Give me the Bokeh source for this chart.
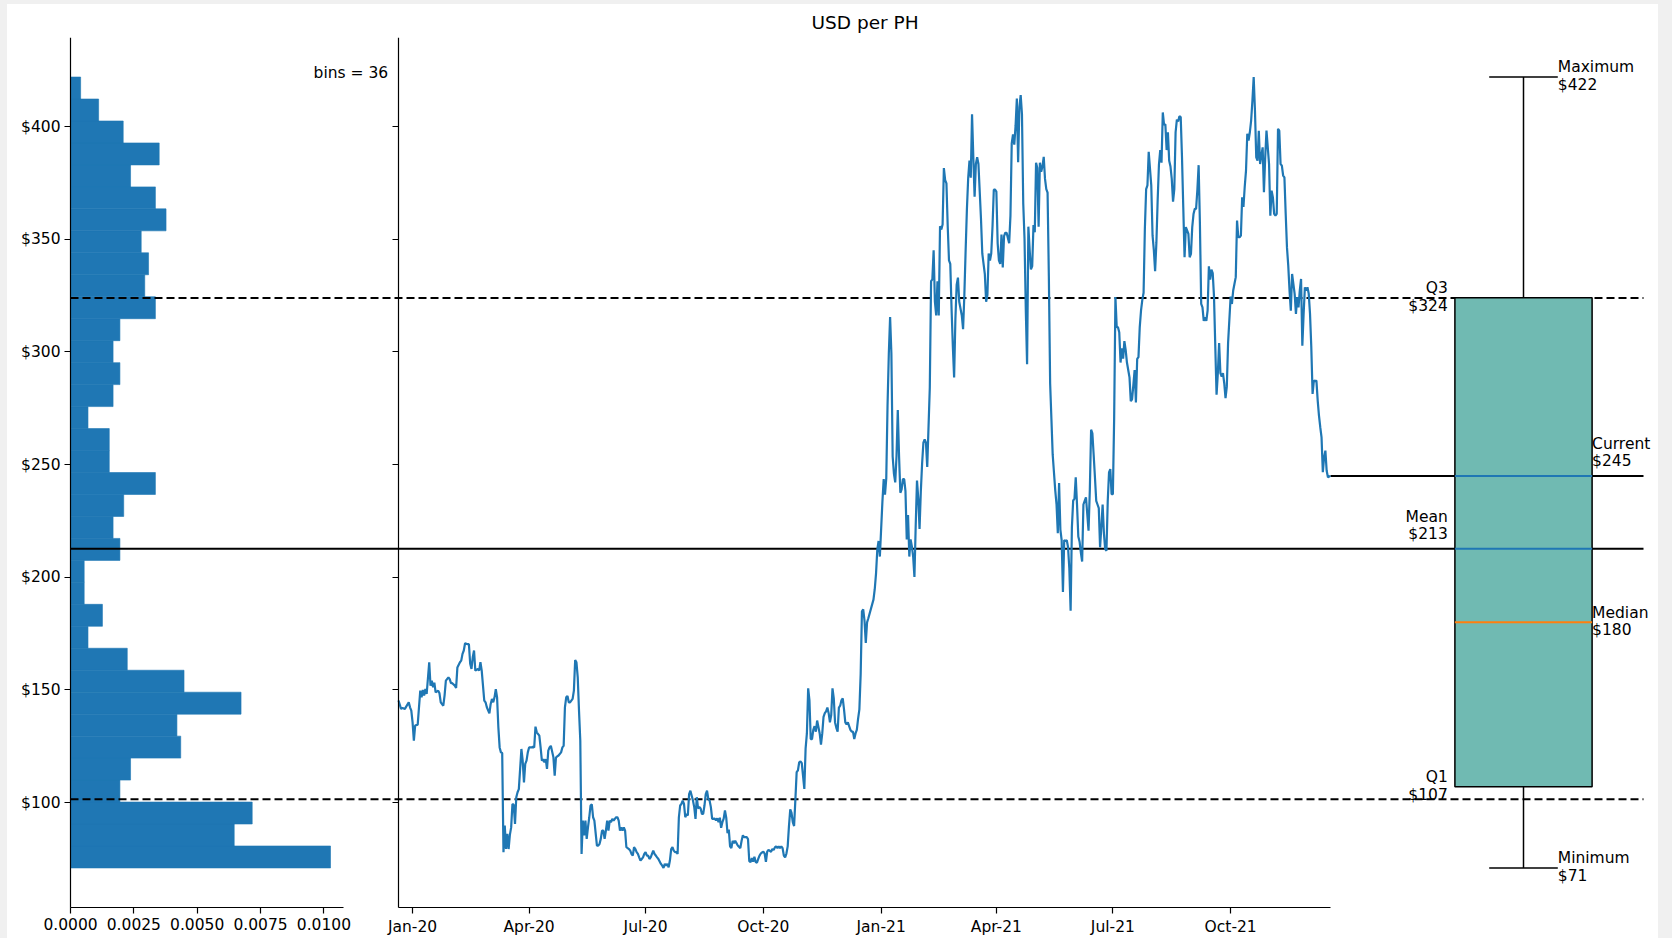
import numpy as np
import pandas as pd
from bokeh.plotting import figure
from bokeh.models import (Range1d, LinearAxis, DatetimeAxis, FixedTicker, PrintfTickFormatter,
                          DatetimeTickFormatter, CustomJSTickFormatter, Label, Title, Spacer)
from bokeh.layouts import row, column
from bokeh.embed import file_html
from bokeh.resources import INLINE

# ---------------- data (days counted from 2020-01-01, USD per PH) ----------------
days_2020h1 = [-11, -9, -8, -6, -5, -3, -2, -1, 0, 1, 2, 4, 5, 6, 7, 8, 9, 10, 11, 13, 14, 15, 16, 17, 18,
               20, 21, 22, 24, 25, 26, 28, 29, 30, 31, 33, 34, 35, 37, 38, 39, 40, 41, 43, 44, 45, 46, 47,
               48, 49, 51, 52, 53, 54, 56, 57, 58, 60, 61, 62, 63, 64, 65, 66, 67, 68, 69, 70, 71, 72, 73,
               74, 75, 76, 77, 78, 79, 80, 81, 82, 83, 85, 86, 87, 88, 89, 90, 91, 93, 94, 95, 96, 97, 99,
               100, 101, 102, 103, 104, 105, 106, 107, 108, 110, 111, 112, 113, 114, 116, 117, 118, 119,
               120, 121, 122, 123, 125, 126, 127, 128, 129, 130, 131, 132, 133, 134, 135, 136, 137, 138,
               139, 140, 141, 142, 144, 145, 146, 147, 148, 149, 150, 151, 152, 153, 154, 155, 156, 157,
               158, 159, 160, 161, 162, 163, 164, 165, 166, 167, 169, 170, 171, 172, 173, 174, 175, 176,
               177, 178, 179, 180, 181]
usd_2020h1 = [145.3, 141.6, 142, 141.6, 142.6, 144.5, 142.3, 140.8, 135.6, 127.5, 134.2, 134.6, 142.3,
              149.7, 146.7, 150, 147.5, 150.4, 148.2, 162.3, 151.9, 154.1, 151.2, 153.2, 148.9, 149.7,
              148.5, 144.5, 143, 147.6, 154.1, 155.6, 154.8, 153, 153, 151.9, 150.9, 160, 162.3, 163, 166,
              167.5, 170.7, 170.3, 170.3, 161.6, 159.3, 164.5, 167.5, 158.6, 159.3, 158.6, 162.3, 158.6,
              145.3, 144.5, 142.3, 139.6, 143.8, 146, 144.5, 146.7, 150.4, 146.7, 133.4, 124.5, 122.3, 122,
              78, 89.8, 79.4, 86.1, 79.4, 85.7, 89, 99.4, 99, 90.5, 102.4, 104.6, 106, 123.8, 118.6, 109,
              117.2, 118.6, 122.3, 124.5, 124.5, 124.8, 124.5, 133.7, 131.2, 129.7, 124.5, 118.6, 119.3,
              117.9, 119.3, 115, 123.1, 124.5, 125.2, 120.1, 112, 120, 120.5, 120.9, 122.3, 124.5, 125.2,
              142.3, 146.7, 147.3, 144.5, 144.5, 146, 149.7, 163.3, 162.3, 155.6, 140.8, 127.5, 77.2, 92,
              85.4, 92, 83.9, 89, 93.5, 98.7, 99.2, 93.5, 92, 80.9, 80.9, 81.6, 83.9, 87.6, 87.6, 83.9,
              87.6, 92, 87.6, 92, 91.3, 92.8, 92, 92.8, 93.5, 93.5, 92, 87.6, 89, 87.6, 89, 87.6, 80.2,
              79.4, 78.7, 77.2, 76.5, 80.2, 79.4, 78, 77.2, 75.7, 74.3, 75, 75.7, 77.2]

days_2020h2 = [182, 183, 184, 185, 186, 187, 188, 189, 190, 191, 192, 194, 195, 196, 197, 198, 199, 200,
               201, 202, 203, 204, 205, 206, 207, 208, 209, 210, 211, 212, 213, 214, 215, 216, 217, 219,
               220, 221, 222, 223, 224, 225, 226, 227, 228, 229, 230, 231, 232, 233, 234, 236, 237, 238,
               239, 240, 241, 242, 243, 244, 245, 246, 247, 248, 249, 250, 251, 252, 253, 254, 256, 257,
               258, 259, 260, 261, 262, 263, 264, 265, 266, 267, 268, 269, 270, 271, 272, 273, 274, 275,
               276, 277, 278, 280, 281, 282, 283, 284, 285, 286, 287, 288, 289, 290, 291, 292, 293, 294,
               295, 296, 297, 298, 299, 300, 301, 302, 303, 304, 306, 307, 308, 309, 310, 311, 312, 313,
               314, 315, 316, 318, 319, 320, 321, 322, 323, 324, 325, 326, 327, 328, 329, 330, 331, 332,
               333, 334, 335, 336, 337, 338, 339, 340, 342, 343, 344, 345, 346, 347, 348, 349, 350, 351,
               352, 353, 354, 355, 356, 360, 361, 362, 363, 364, 365]
usd_2020h2 = [78, 76.5, 76.5, 75, 75.7, 77.2, 78.7, 77.2, 76.5, 75.7, 75, 72.8, 72, 71, 72.8, 72, 72.8,
              71.3, 74.3, 79.4, 80.2, 78.7, 78, 78, 77.2, 93.5, 98.7, 99.4, 100.9, 99.4, 93.5, 95, 94.3,
              103.8, 105.3, 100.9, 98, 92.8, 102.4, 97.4, 98, 97.4, 95, 95, 98.7, 103.8, 105.3, 101.6,
              100.9, 98, 92.8, 92.9, 92.1, 93, 91.3, 93.3, 88.8, 91.3, 92.9, 96.5, 93.3, 86.4, 88, 80.6,
              79.8, 83, 82, 83.1, 82, 81, 79.8, 83.1, 85.5, 84.7, 84.7, 84.7, 83.8, 74, 73.6, 75.4, 73.8,
              76, 73.6, 73.3, 75, 76.5, 77.4, 77.9, 78.2, 77.4, 73.7, 78.2, 79, 78.2, 79.4, 79, 80.1,
              80.6, 79.8, 80.6, 79.8, 80.6, 79.8, 76.5, 75.7, 77.4, 80.6, 89.6, 97, 95.4, 91.3, 89.6,
              101.2, 113.5, 114.3, 117.9, 118.3, 117.5, 106.1, 124.1, 130.7, 150.7, 145.4, 128.2, 128.2,
              132.3, 133.9, 131.5, 136.4, 130.7, 125.7, 130.7, 138.1, 139.7, 140.5, 142.2, 139.7, 135.6,
              138.9, 150.7, 146.3, 135.6, 133.2, 131.5, 142.2, 143, 145.4, 146.3, 141.4, 135.6, 134.7,
              135.6, 132.3, 131.5, 131.5, 128.2, 130.7, 132.3, 137.3, 141.4, 156.9, 184.9, 185.7, 180.8,
              170.9, 180, 181.8, 190.1, 194.7, 201.6, 212.3, 216.1, 209.2]

days_2021h1 = [367, 368, 369, 370, 371, 372, 373, 374, 375, 376, 377, 378, 379, 380, 381, 382, 383, 384,
               385, 386, 387, 388, 389, 390, 391, 392, 393, 394, 395, 396, 397, 398, 399, 400, 401, 402,
               404, 405, 406, 407, 408, 409, 410, 411, 412, 413, 414, 415, 416, 417, 418, 419, 420, 421,
               422, 423, 424, 425, 426, 427, 429, 430, 431, 432, 433, 434, 435, 436, 437, 438, 439, 440,
               441, 442, 443, 444, 445, 446, 447, 448, 449, 450, 451, 452, 453, 454, 455, 456, 457, 458,
               459, 460, 461, 462, 463, 464, 466, 467, 468, 469, 470, 471, 472, 473, 474, 475, 476, 477,
               478, 479, 480, 481, 482, 483, 484, 485, 486, 487, 488, 489, 490, 491, 492, 493, 494, 495,
               496, 497, 498, 499, 500, 501, 502, 503, 504, 505, 506, 507, 508, 509, 510, 511, 512, 513,
               514, 515, 516, 517, 518, 519, 520, 521, 522, 523, 524, 525, 526, 528, 529, 530, 531, 532,
               533, 534, 535, 536, 537, 538, 539, 540, 541, 542, 543, 544, 545, 546]
usd_2021h1 = [233.7, 243.6, 236.7, 243.9, 276.4, 299.4, 315.5, 299.4, 253.6, 245.9, 242.1, 253.6, 274.2,
              253.6, 237.5, 239, 243.6, 243.6, 238.2, 216.8, 227.6, 209.2, 216.8, 213.7, 209.2, 200.1,
              223, 242.9, 235.2, 221.4, 238.2, 250.5, 259.7, 261.2, 259.7, 249,
              284.1, 331.4, 332.2, 345.1, 322.3, 316.2, 331.4, 316.2, 355.8, 354.3, 356.6, 381.6, 376.3,
              374.8, 355.8, 340.6, 339.1, 319.3, 302.5, 288.7, 314.6, 329.9, 333, 322.3,
              316.2, 310.1, 325.3, 345.1, 363.5, 377.3, 384.9, 377.3, 405.5, 386.4, 368.9, 383.4, 386.4,
              383.4, 371.2, 358.9, 343.7, 339.1, 334.5, 322.3, 325.3, 343.7, 340.6, 343.7, 355.8, 372,
              372, 371.2, 348.3, 340.6, 339.1, 352.1, 337.5, 351.4, 352.9, 352.9,
              348.3, 360.4, 392.6, 396.5, 392, 400.3, 412.5, 384.2, 408.7, 414, 405.5, 365.9, 350.1,
              318.4, 294.6, 355.6, 345.3, 336.6, 338.1, 356.3, 353.1, 384, 381.6, 355.6, 384, 380, 382.3,
              386.6, 376.8, 372.3, 370.7, 333.6, 286.1, 270.3, 254.4, 246.5, 238.6, 232.3, 219.6, 241.8,
              221.2, 216.5, 193.5, 216.5, 216, 216.5, 213.3, 203.8, 185.2, 222.2, 234.1, 234.8, 244.4,
              232.3, 218.1, 215.8, 211, 207, 232.3, 233.9, 235.5,
              220.7, 238.6, 265.5, 263.9, 254.4, 244.4, 233.9, 232.3, 230.7, 213.3, 222.2, 232.3, 219.6,
              212.5, 211.8, 233.9, 246.5, 248, 236.9]

days_2021h2 = [547, 548, 549, 550, 551, 552, 553, 554, 555, 556, 557, 558, 559, 560, 561, 562, 563, 564,
               565, 566, 567, 568, 569, 570, 571, 572, 573, 574, 575, 577, 578, 579, 580, 581, 582, 583,
               584, 585, 586, 587, 588, 589, 590, 591, 592, 593, 594, 595, 596, 597, 598, 599, 600, 601,
               602, 603, 604, 605, 606, 607, 608, 609, 610, 611, 612, 613, 614, 615, 616, 617, 618, 619,
               620, 621, 622, 623, 624, 625, 626, 627, 628, 629, 630, 631, 632, 633, 634, 635, 636, 637,
               639, 640, 641, 642, 643, 644, 645, 646, 647, 648, 649, 650, 651, 652, 653, 654, 655, 656,
               657, 658, 659, 660, 661, 662, 664, 665, 666, 667, 668, 669, 670, 671, 672, 673, 674, 675,
               676, 677, 678, 679, 680, 681, 682, 683, 684, 685, 686, 687, 689, 690, 691, 692, 693, 694,
               695, 696, 697, 698, 699, 700, 701, 702, 703, 704, 705, 706, 707, 708, 709, 710, 711, 712,
               713, 714, 715, 717]
usd_2021h2 = [236.9, 270.3, 324.4, 311, 311, 308.6, 295.3, 301.6, 297, 304.8, 300.9, 295.3, 292, 288.7,
              278.2, 279, 285.3, 292, 277.6, 296.9, 297.7, 311, 318.4, 323.1, 326.3, 354.8, 372.3, 373.9,
              388.8,
              373.9, 351.7, 345.3, 335.8, 348.5, 367.5, 383.2, 389.6, 384, 406.3, 400.8, 401, 389.6, 397.5,
              384.8, 382.3, 376.8, 366.7, 372.3, 397.5, 403.1, 402.3, 404.6, 404.2, 386.4, 364.2, 342,
              355.4, 353.9, 352.4, 342, 343.5, 355.4, 361.2, 363.5, 363.5, 371.8, 382.9, 356.8, 321.3,
              319.8, 313.8, 315.3, 313.8, 318.3, 338, 332.1, 336.5, 335, 324.6, 302.5, 281, 290.6, 304,
              290.6, 289.1, 290.6, 286.1, 279.5, 284.6, 304,
              324.6, 321.3, 327.3, 330.3, 333.2, 358.3, 350.9, 350.9, 351.6, 368.6, 364.4, 373.3, 380.5,
              396.8, 393.8, 397.5, 402.7, 411.5, 422, 407.1, 386.4, 384.9, 398.2, 383.4,
              390.8, 370.9, 386.4, 398.2, 390.8, 383.4, 360.5, 371.6, 368.6, 361.3, 360.5, 361.3, 399,
              398.2, 383.4, 382.7, 378.3, 377.5, 361.3, 346.4, 338.3, 327.2, 318.3, 334.6,
              325.8, 316.9, 324.3, 319.8, 327.2, 332.4, 302.8, 316.9, 328.7, 327.2, 328.7, 325.8, 316.9,
              302.1, 281.4, 287.3, 287, 287.3, 278.4, 271.7, 266.6, 262.1, 246.6, 253.2, 256.2, 247.3,
              244.4, 245]

# histogram (density per bin, 36 bins between the minimum and the maximum)
hist_bins = 36
hist_density = [0.01026, 0.00646, 0.00717, 0.00195, 0.00237, 0.00435, 0.00420, 0.00673, 0.00448,
                0.00224, 0.00069, 0.00126, 0.00054, 0.00054, 0.00195, 0.00168, 0.00210, 0.00335,
                0.00153, 0.00153, 0.00069, 0.00168, 0.00195, 0.00168, 0.00195, 0.00335, 0.00293,
                0.00308, 0.00279, 0.00377, 0.00335, 0.00237, 0.00350, 0.00208, 0.00111, 0.00040]

# summary statistics
stat_max = 422
stat_q3 = 324
stat_current = 245
stat_mean = 212.7
stat_median = 180
stat_q1 = 107
stat_min = 71
stat_std = 111.2

# ticks
y_ticks = [100, 150, 200, 250, 300, 350, 400]
hist_ticks = [0.0, 0.0025, 0.005, 0.0075, 0.01]
date_ticks = ["2020-01-01", "2020-04-01", "2020-07-01", "2020-10-01",
              "2021-01-01", "2021-04-01", "2021-07-01", "2021-10-01"]

# ---------------- styling ----------------
BLUE = "#1f77b4"
TEAL = "#70bab2"
ORANGE = "#ff7f0e"
GREY_BG = "#f0f0f0"
FONT = "DejaVu Sans"
TICK_FS = "15.5px"

days = days_2020h1 + days_2020h2 + days_2021h1 + days_2021h2
usd = usd_2020h1 + usd_2020h2 + usd_2021h1 + usd_2021h2
if len(days) != len(usd):
    raise ValueError(f"length mismatch {len(days)} vs {len(usd)}")

EPOCH = pd.Timestamp("2020-01-01")


def to_ms(ts):
    return ts.value / 1e6


x_ms = [to_ms(EPOCH + pd.Timedelta(days=d)) for d in days]
tick_ms = [to_ms(pd.Timestamp(s)) for s in date_ticks]

# layout geometry (pixels, measured from the left / top of the plotting frame)
FIG_W, FIG_H = 1651, 934
BT = 33                            # room for the title
FRAME_W = FIG_W                    # frame covers the whole canvas width (no label clipping)
FRAME_H = FIG_H - BT               # frame reaches the bottom (bottom axes drawn inside)
AXIS_H = 870                       # height of the y-axis spines
HIST_ZERO_PX = 63                  # histogram spine
HIST_AXIS_END_PX = 336             # end of the histogram x-axis
DATE_START_PX, DATE_END_PX = 391, 1323
BOX_CENTER_PX, BOX_PX_PER_UNIT = 1516, 274.4
LINE_END_PX = 1636                 # where the horizontal guide lines stop
BINS_TEXT_PX = 380.7

y_span = stat_max - stat_min
y_lo, y_hi = stat_min - 0.05 * y_span, stat_max + 0.05 * y_span
PX_Y = AXIS_H / (y_hi - y_lo)
y_bottom = y_hi - FRAME_H / PX_Y

hist_xmax = 1.05 * max(hist_density)
hist_ppu = (HIST_AXIS_END_PX - HIST_ZERO_PX) / hist_xmax
hist_lo = -HIST_ZERO_PX / hist_ppu
hist_hi = hist_lo + FRAME_W / hist_ppu

d0, d1 = x_ms[0], x_ms[-1]
date_ppu = (DATE_END_PX - DATE_START_PX) / (d1 - d0)
date_lo = d0 - DATE_START_PX / date_ppu
date_hi = date_lo + FRAME_W / date_ppu
date_line_end = date_lo + LINE_END_PX / date_ppu

box_lo = 1 - BOX_CENTER_PX / BOX_PX_PER_UNIT
box_hi = box_lo + FRAME_W / BOX_PX_PER_UNIT
box_line_start = box_lo + HIST_ZERO_PX / BOX_PX_PER_UNIT
box_line_end = box_lo + LINE_END_PX / BOX_PX_PER_UNIT

p = figure(width=FIG_W, height=FIG_H, x_range=Range1d(hist_lo, hist_hi),
           y_range=Range1d(y_bottom, y_hi),
           x_axis_type=None, y_axis_type=None, output_backend="svg", toolbar_location=None,
           min_border_left=0, min_border_right=0, min_border_top=BT, min_border_bottom=0,
           background_fill_color="white", border_fill_color="white", outline_line_color=None)
p.extra_x_ranges = {"date": Range1d(date_lo, date_hi), "box": Range1d(box_lo, box_hi)}


def style_axis(ax):
    ax.axis_line_color = "black"
    ax.axis_line_width = 1.2
    ax.major_tick_line_color = "black"
    ax.major_tick_line_width = 1.2
    ax.major_tick_out = 6
    ax.major_tick_in = 0
    ax.minor_tick_out = 0
    ax.minor_tick_in = 0
    ax.major_label_text_font = FONT
    ax.major_label_text_font_size = TICK_FS
    ax.major_label_text_color = "black"
    ax.major_label_standoff = 4


hist_x = LinearAxis(ticker=FixedTicker(ticks=hist_ticks), formatter=PrintfTickFormatter(format="%.4f"),
                    bounds=(0, hist_xmax), fixed_location=y_lo)
style_axis(hist_x)
p.add_layout(hist_x, "below")

hist_y = LinearAxis(ticker=FixedTicker(ticks=y_ticks), formatter=PrintfTickFormatter(format="$%d"),
                    bounds=(y_lo, y_hi), fixed_location=0)
style_axis(hist_y)
p.add_layout(hist_y, "left")

date_x = DatetimeAxis(x_range_name="date", fixed_location=y_lo, bounds=(d0, d1),
                      ticker=FixedTicker(ticks=tick_ms),
                      formatter=DatetimeTickFormatter(days="%b-%y", months="%b-%y", years="%b-%y"))
style_axis(date_x)
p.add_layout(date_x, "below")

main_y = LinearAxis(x_range_name="date", fixed_location=d0, ticker=FixedTicker(ticks=y_ticks),
                    formatter=CustomJSTickFormatter(code="return '';"), bounds=(y_lo, y_hi))
style_axis(main_y)
p.add_layout(main_y, "left")

# histogram
edges = np.linspace(stat_min, stat_max, hist_bins + 1)
p.quad(left=0, right=hist_density, bottom=edges[:-1], top=edges[1:], fill_color=BLUE,
       line_color=BLUE, line_width=0.6)

# horizontal reference lines (mean +- std dashed, mean solid, current)
for loc, dash in ((stat_mean + stat_std, "8 4"), (stat_mean - stat_std, "8 4"), (stat_mean, "solid")):
    p.segment(x0=[box_line_start], x1=[box_line_end], y0=[loc], y1=[loc], x_range_name="box",
              line_color="black", line_width=2, line_dash=dash)
p.segment(x0=[d1], x1=[date_line_end], y0=[stat_current], y1=[stat_current], x_range_name="date",
          line_color="black", line_width=2)

# time series
p.line(x=x_ms, y=usd, x_range_name="date", line_color=BLUE, line_width=2.2)

# box plot
p.quad(left=[0.75], right=[1.25], bottom=[stat_q1], top=[stat_q3], x_range_name="box",
       fill_color=TEAL, line_color="black", line_width=1.5)
p.segment(x0=[0.75, 0.75], x1=[1.25, 1.25], y0=[stat_mean, stat_current], y1=[stat_mean, stat_current],
          x_range_name="box", line_color=BLUE, line_width=2)
p.segment(x0=[0.75], x1=[1.25], y0=[stat_median], y1=[stat_median], x_range_name="box",
          line_color=ORANGE, line_width=2)
p.segment(x0=[1, 1], x1=[1, 1], y0=[stat_q3, stat_q1], y1=[stat_max, stat_min], x_range_name="box",
          line_color="black", line_width=1.5)
p.segment(x0=[0.875, 0.875], x1=[1.125, 1.125], y0=[stat_max, stat_min], y1=[stat_max, stat_min],
          x_range_name="box", line_color="black", line_width=1.5)


def two_line(x, val, name, align, style):
    if style == "center":
        offs = (9.7, -8.1)
    else:
        offs = (31.9, 14.4)
    for txt, off in ((name, offs[0]), (f"${val:.0f}", offs[1])):
        p.add_layout(Label(x=x, y=val + off / PX_Y, x_range_name="box", text=txt, text_align=align,
                           text_baseline="alphabetic", text_font=FONT, text_font_size=TICK_FS,
                           text_color="black"))


two_line(1.125, stat_max, "Maximum", "left", "center")
two_line(1.125, stat_min, "Minimum", "left", "center")
two_line(1.25, stat_current, "Current", "left", "bottom")
two_line(1.25, stat_median, "Median", "left", "center")
two_line(0.724, stat_q3, "Q3", "right", "center")
two_line(0.724, stat_mean, "Mean", "right", "bottom")
two_line(0.724, stat_q1, "Q1", "right", "center")

# bins note
p.add_layout(Label(x=hist_lo + BINS_TEXT_PX / hist_ppu, y=y_hi - 35.6 / PX_Y, text=f"bins = {hist_bins}",
                   text_align="right", text_baseline="alphabetic", text_font=FONT,
                   text_font_size=TICK_FS, text_color="black"))

p.title = Title(text="USD per PH", align="left", offset=804, text_font=FONT, text_font_size="18.5px",
                text_font_style="normal", text_color="black", standoff=10)

top = Spacer(width=1672, height=4, styles={"background-color": GREY_BG})
left = Spacer(width=7, height=FIG_H, styles={"background-color": GREY_BG})
right = Spacer(width=14, height=FIG_H, styles={"background-color": GREY_BG})
layout = column(top, row(left, p, right))

open("out.html", "w").write(file_html(layout, INLINE, "USD per PH"))
